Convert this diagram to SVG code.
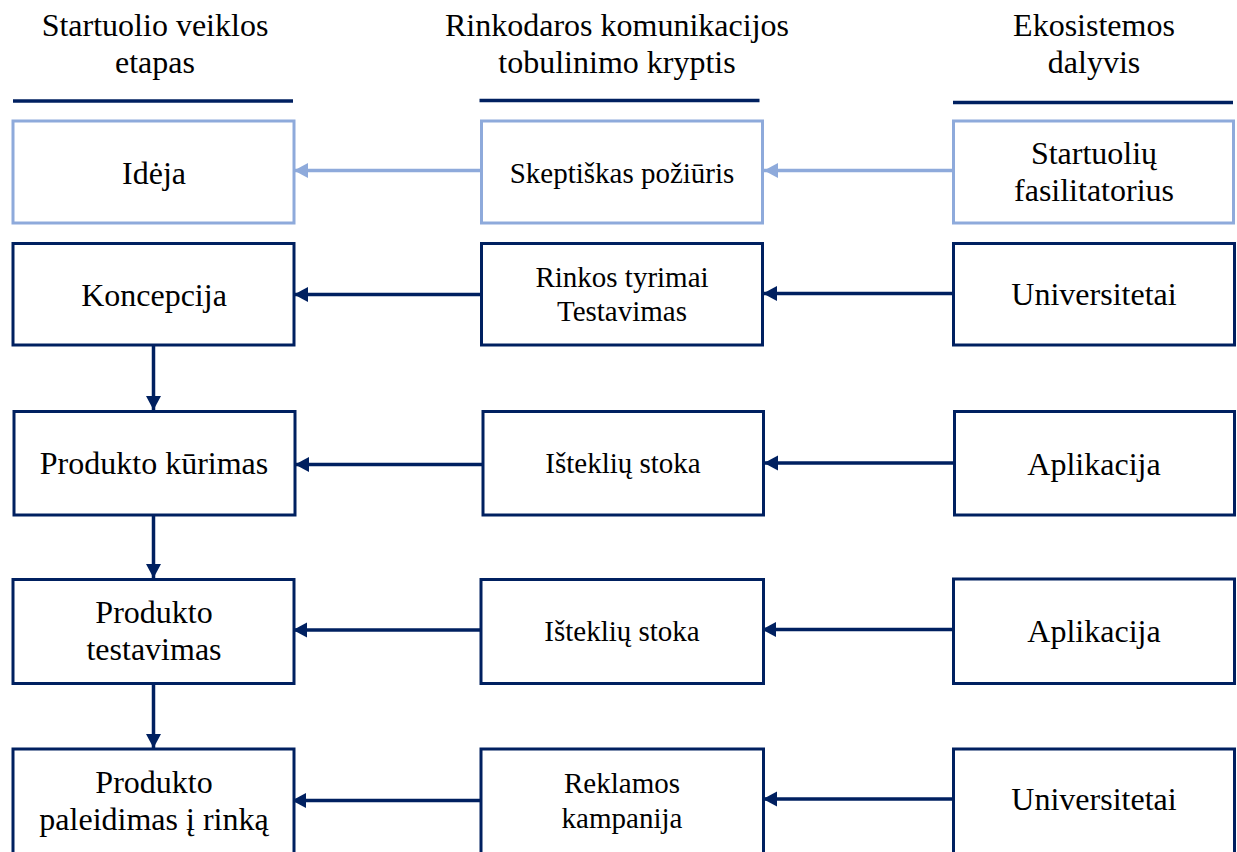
<svg xmlns="http://www.w3.org/2000/svg" width="1237" height="852" viewBox="0 0 1237 852">
  <style>
    .t { font-family: "Liberation Serif", "Times New Roman", serif; fill: #000; text-anchor: middle; }
    .big { font-size: 32px; }
    .mid { font-size: 29px; }
    .box { fill: #fff; stroke: #002060; stroke-width: 3; }
    .box.light { stroke: #8EAADB; }
    .rule { stroke: #002060; stroke-width: 3.5; }
    .con { fill: none; stroke: #002060; stroke-width: 3.5; marker-end: url(#arr); }
    .con.light { stroke: #8EAADB; marker-end: url(#arrLight); }
  </style>
  <defs>
    <marker id="arr" markerUnits="userSpaceOnUse" markerWidth="15" markerHeight="16" refX="14" refY="7.5" orient="auto">
      <path d="M0,0 L14,7.5 L0,15 z" fill="#002060"/>
    </marker>
    <marker id="arrLight" markerUnits="userSpaceOnUse" markerWidth="15" markerHeight="16" refX="14" refY="7.5" orient="auto">
      <path d="M0,0 L14,7.5 L0,15 z" fill="#8EAADB"/>
    </marker>
  </defs>

  <rect width="1237" height="852" fill="#fff"/>

  <!-- column headings -->
  <g id="header-stage">
    <text class="t big" x="155" y="36">Startuolio veiklos</text>
    <text class="t big" x="155" y="73">etapas</text>
    <line class="rule" x1="13" y1="101" x2="293" y2="101"/>
  </g>
  <g id="header-direction">
    <text class="t big" x="617" y="36">Rinkodaros komunikacijos</text>
    <text class="t big" x="617" y="73">tobulinimo kryptis</text>
    <line class="rule" x1="479.5" y1="100.5" x2="759.5" y2="100.5"/>
  </g>
  <g id="header-participant">
    <text class="t big" x="1094" y="36">Ekosistemos</text>
    <text class="t big" x="1094" y="73">dalyvis</text>
    <line class="rule" x1="953" y1="102.5" x2="1233" y2="102.5"/>
  </g>

  <!-- connectors -->
  <g id="connectors">
    <!-- row 1 -->
    <line class="con light" x1="952" y1="170.5" x2="764" y2="170.5"/>
    <line class="con light" x1="480" y1="170.5" x2="294" y2="170.5"/>
    <!-- row 2 -->
    <line class="con" x1="952" y1="293.5" x2="763" y2="293.5"/>
    <line class="con" x1="480" y1="294.5" x2="294" y2="294.5"/>
    <!-- row 3 -->
    <line class="con" x1="953" y1="463" x2="764" y2="463"/>
    <line class="con" x1="482" y1="464.5" x2="295" y2="464.5"/>
    <!-- row 4 -->
    <line class="con" x1="952" y1="629.5" x2="762" y2="629.5"/>
    <line class="con" x1="480" y1="630" x2="293" y2="630"/>
    <!-- row 5 -->
    <line class="con" x1="952" y1="799" x2="763" y2="799"/>
    <line class="con" x1="480" y1="800.5" x2="292" y2="800.5"/>
    <!-- stage sequence -->
    <line class="con" x1="153.5" y1="345" x2="153.5" y2="410"/>
    <line class="con" x1="153.5" y1="516" x2="153.5" y2="578"/>
    <line class="con" x1="153.5" y1="685" x2="153.5" y2="748"/>
  </g>

  <!-- left column: stages -->
  <g id="idea">
    <rect class="box light" x="13" y="121" width="281" height="102"/>
    <text class="t big" x="154" y="184">Idėja</text>
  </g>
  <g id="concept">
    <rect class="box" x="13" y="243.5" width="281" height="101.5"/>
    <text class="t big" x="154" y="305.5">Koncepcija</text>
  </g>
  <g id="product-development">
    <rect class="box" x="14" y="411.5" width="281" height="103.5"/>
    <text class="t big" x="154" y="474">Produkto kūrimas</text>
  </g>
  <g id="product-testing">
    <rect class="box" x="13" y="579.5" width="281" height="104"/>
    <text class="t big" x="154" y="622.5">Produkto</text>
    <text class="t big" x="154" y="660">testavimas</text>
  </g>
  <g id="product-launch">
    <rect class="box" x="13" y="749" width="281" height="120"/>
    <text class="t big" x="154" y="793">Produkto</text>
    <text class="t big" x="154" y="830">paleidimas į rinką</text>
  </g>

  <!-- middle column: communication directions -->
  <g id="sceptical-view">
    <rect class="box light" x="481.5" y="121" width="281" height="102"/>
    <text class="t mid" x="622" y="183">Skeptiškas požiūris</text>
  </g>
  <g id="market-research">
    <rect class="box" x="481.5" y="243.5" width="281" height="101.5"/>
    <text class="t mid" x="622" y="286.5">Rinkos tyrimai</text>
    <text class="t mid" x="622" y="320.5">Testavimas</text>
  </g>
  <g id="resource-shortage-1">
    <rect class="box" x="483" y="411.5" width="280.5" height="103.5"/>
    <text class="t mid" x="623" y="473">Išteklių stoka</text>
  </g>
  <g id="resource-shortage-2">
    <rect class="box" x="481" y="579.5" width="282.5" height="104"/>
    <text class="t mid" x="622" y="641">Išteklių stoka</text>
  </g>
  <g id="ad-campaign">
    <rect class="box" x="481" y="749" width="282.5" height="120"/>
    <text class="t mid" x="622" y="793">Reklamos</text>
    <text class="t mid" x="622" y="828">kampanija</text>
  </g>

  <!-- right column: ecosystem participants -->
  <g id="facilitator">
    <rect class="box light" x="953.5" y="121" width="280" height="102"/>
    <text class="t big" x="1094" y="164">Startuolių</text>
    <text class="t big" x="1094" y="200.5">fasilitatorius</text>
  </g>
  <g id="universities-1">
    <rect class="box" x="953.5" y="243.5" width="281" height="101.5"/>
    <text class="t big" x="1094" y="305">Universitetai</text>
  </g>
  <g id="application-1">
    <rect class="box" x="954.5" y="411.5" width="280" height="103.5"/>
    <text class="t big" x="1094" y="475">Aplikacija</text>
  </g>
  <g id="application-2">
    <rect class="box" x="953.5" y="579" width="281" height="104.5"/>
    <text class="t big" x="1094" y="641.5">Aplikacija</text>
  </g>
  <g id="universities-2">
    <rect class="box" x="953.5" y="749" width="281" height="120"/>
    <text class="t big" x="1094" y="810">Universitetai</text>
  </g>
</svg>
